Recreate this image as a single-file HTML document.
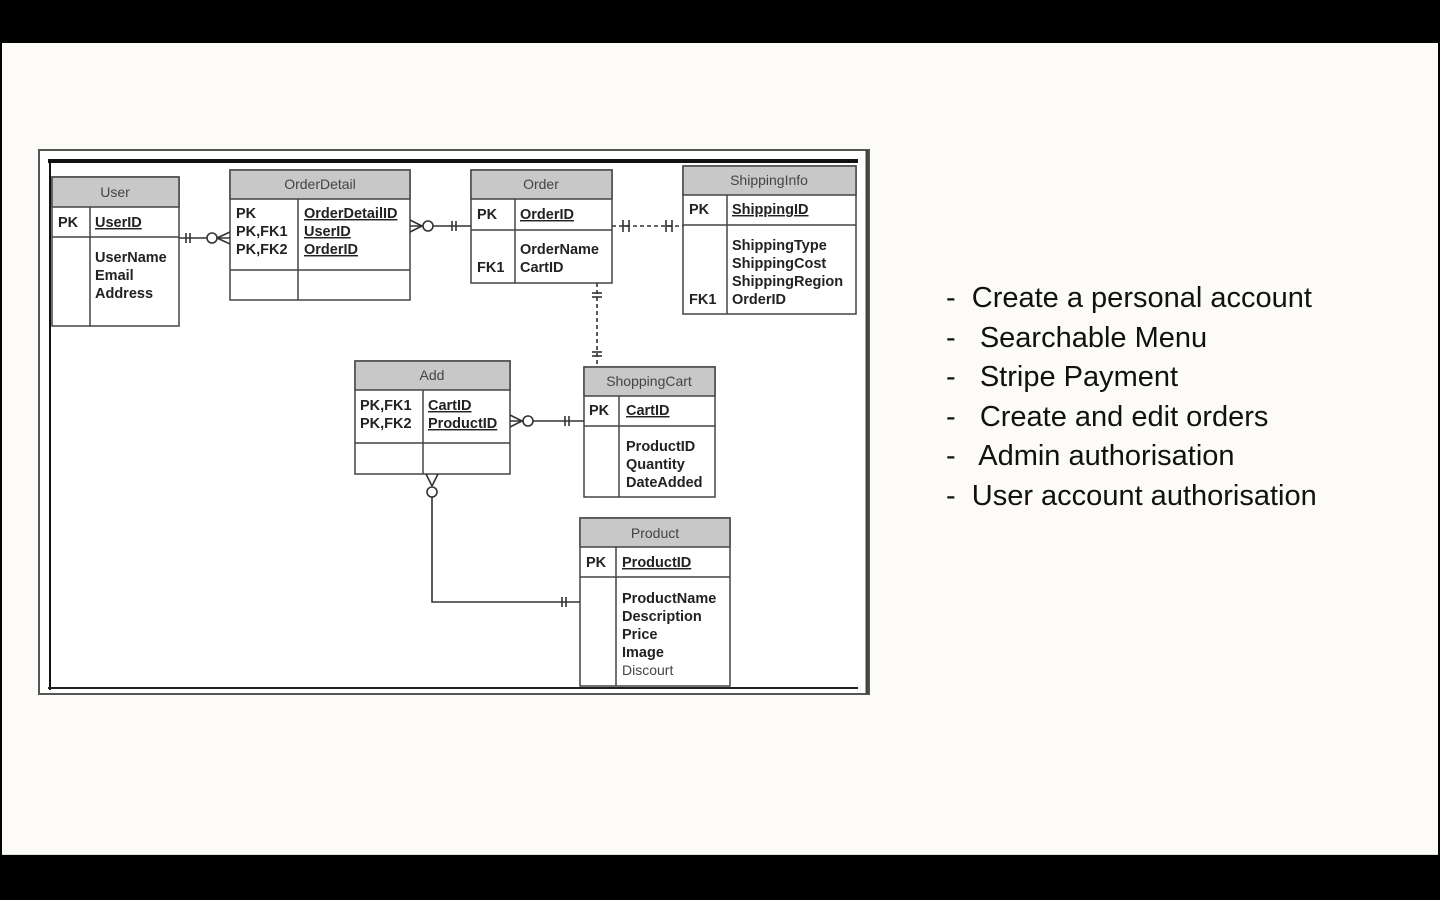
<!DOCTYPE html>
<html><head><meta charset="utf-8"><style>
html,body{margin:0;padding:0;width:1440px;height:900px;overflow:hidden;background:#000;}
.slide{position:absolute;left:2px;top:43px;width:1436px;height:811px;background:#fcfbf8;border-bottom:1px solid #ddd;}
svg{position:absolute;left:0;top:0;}
svg text{font-family:"Liberation Sans",Arial,sans-serif;font-size:14.5px;fill:#222;}
.b{font-weight:bold;}
.h{fill:#444;font-size:14px;}
.list{position:absolute;left:946px;top:279px;font-family:"Liberation Sans",sans-serif;font-size:29px;color:#111;line-height:39.6px;}
.list div{white-space:nowrap;}
</style></head><body>
<div class="slide"></div>
<svg width="1440" height="900" viewBox="0 0 1440 900">
<rect x="39" y="150" width="830" height="544" fill="#fff" stroke="#555" stroke-width="2"/>
<line x1="48" y1="161" x2="858" y2="161" stroke="#111" stroke-width="4"/>
<line x1="50" y1="160" x2="50" y2="690" stroke="#111" stroke-width="2"/>
<line x1="48" y1="688" x2="858" y2="688" stroke="#222" stroke-width="2"/>
<line x1="867" y1="150" x2="867" y2="694" stroke="#444" stroke-width="3"/>
<g stroke="#444" stroke-width="1.5" fill="none">
<rect x="52" y="177" width="127" height="149" fill="#fff"/><rect x="52" y="177" width="127" height="30" fill="#c8c8c8"/>
<line x1="52" y1="237" x2="179" y2="237"/><line x1="90" y1="207" x2="90" y2="326"/>
<rect x="230" y="170" width="180" height="130" fill="#fff"/><rect x="230" y="170" width="180" height="29" fill="#c8c8c8"/>
<line x1="230" y1="270" x2="410" y2="270"/><line x1="298" y1="199" x2="298" y2="300"/>
<rect x="471" y="170" width="141" height="113" fill="#fff"/><rect x="471" y="170" width="141" height="29" fill="#c8c8c8"/>
<line x1="471" y1="230" x2="612" y2="230"/><line x1="515" y1="199" x2="515" y2="283"/>
<rect x="683" y="166" width="173" height="148" fill="#fff"/><rect x="683" y="166" width="173" height="29" fill="#c8c8c8"/>
<line x1="683" y1="225" x2="856" y2="225"/><line x1="727" y1="195" x2="727" y2="314"/>
<rect x="355" y="361" width="155" height="113" fill="#fff"/><rect x="355" y="361" width="155" height="29" fill="#c8c8c8"/>
<line x1="355" y1="443" x2="510" y2="443"/><line x1="423" y1="390" x2="423" y2="474"/>
<rect x="584" y="367" width="131" height="130" fill="#fff"/><rect x="584" y="367" width="131" height="29" fill="#c8c8c8"/>
<line x1="584" y1="426" x2="715" y2="426"/><line x1="619" y1="396" x2="619" y2="497"/>
<rect x="580" y="518" width="150" height="168" fill="#fff"/><rect x="580" y="518" width="150" height="29" fill="#c8c8c8"/>
<line x1="580" y1="577" x2="730" y2="577"/><line x1="616" y1="547" x2="616" y2="686"/>
</g>
<g stroke="#333" stroke-width="1.6" fill="none">
<line x1="179" y1="238" x2="230" y2="238"/>
<line x1="186" y1="233" x2="186" y2="243"/><line x1="190" y1="233" x2="190" y2="243"/>
<circle cx="212" cy="238" r="5" fill="#fff"/>
<line x1="217" y1="238" x2="230" y2="232"/><line x1="217" y1="238" x2="230" y2="244"/>
<line x1="410" y1="226" x2="471" y2="226"/>
<line x1="410" y1="220" x2="422" y2="226"/><line x1="410" y1="232" x2="422" y2="226"/>
<circle cx="428" cy="226" r="5" fill="#fff"/>
<line x1="452" y1="221" x2="452" y2="231"/><line x1="456" y1="221" x2="456" y2="231"/>
<line x1="612" y1="226" x2="683" y2="226" stroke-dasharray="4,3"/>
<line x1="623" y1="220" x2="623" y2="232"/><line x1="629" y1="220" x2="629" y2="232"/><line x1="623" y1="226" x2="629" y2="226"/>
<line x1="666" y1="220" x2="666" y2="232"/><line x1="672" y1="220" x2="672" y2="232"/><line x1="666" y1="226" x2="672" y2="226"/>
<line x1="597" y1="283" x2="597" y2="367" stroke-dasharray="4,3"/>
<line x1="592" y1="293" x2="602" y2="293"/><line x1="592" y1="297" x2="602" y2="297"/>
<line x1="592" y1="352" x2="602" y2="352"/><line x1="592" y1="356" x2="602" y2="356"/>
<line x1="510" y1="421" x2="584" y2="421"/>
<line x1="510" y1="415" x2="522" y2="421"/><line x1="510" y1="427" x2="522" y2="421"/>
<circle cx="528" cy="421" r="5" fill="#fff"/>
<line x1="565" y1="416" x2="565" y2="426"/><line x1="569" y1="416" x2="569" y2="426"/>
<polyline points="432,497 432,602 580,602"/>
<line x1="426" y1="474" x2="432" y2="486"/><line x1="438" y1="474" x2="432" y2="486"/>
<circle cx="432" cy="492" r="5" fill="#fff"/>
<line x1="562" y1="597" x2="562" y2="607"/><line x1="566" y1="597" x2="566" y2="607"/>
</g>
<text x="115" y="197" text-anchor="middle" class="h">User</text>
<text x="58" y="227" class="b">PK</text><text x="95" y="227" class="b" text-decoration="underline">UserID</text>
<text x="95" y="262" class="b">UserName</text><text x="95" y="280" class="b">Email</text><text x="95" y="298" class="b">Address</text>

<text x="320" y="189" text-anchor="middle" class="h">OrderDetail</text>
<text x="236" y="218" class="b">PK</text><text x="236" y="236" class="b">PK,FK1</text><text x="236" y="254" class="b">PK,FK2</text>
<text x="304" y="218" class="b" text-decoration="underline">OrderDetailID</text><text x="304" y="236" class="b" text-decoration="underline">UserID</text><text x="304" y="254" class="b" text-decoration="underline">OrderID</text>

<text x="541" y="189" text-anchor="middle" class="h">Order</text>
<text x="477" y="219" class="b">PK</text><text x="520" y="219" class="b" text-decoration="underline">OrderID</text>
<text x="520" y="254" class="b">OrderName</text><text x="477" y="272" class="b">FK1</text><text x="520" y="272" class="b">CartID</text>

<text x="769" y="185" text-anchor="middle" class="h">ShippingInfo</text>
<text x="689" y="214" class="b">PK</text><text x="732" y="214" class="b" text-decoration="underline">ShippingID</text>
<text x="732" y="250" class="b">ShippingType</text><text x="732" y="268" class="b">ShippingCost</text><text x="732" y="286" class="b">ShippingRegion</text>
<text x="689" y="304" class="b">FK1</text><text x="732" y="304" class="b">OrderID</text>

<text x="432" y="380" text-anchor="middle" class="h">Add</text>
<text x="360" y="410" class="b">PK,FK1</text><text x="360" y="428" class="b">PK,FK2</text>
<text x="428" y="410" class="b" text-decoration="underline">CartID</text><text x="428" y="428" class="b" text-decoration="underline">ProductID</text>

<text x="649" y="386" text-anchor="middle" class="h">ShoppingCart</text>
<text x="589" y="415" class="b">PK</text><text x="626" y="415" class="b" text-decoration="underline">CartID</text>
<text x="626" y="451" class="b">ProductID</text><text x="626" y="469" class="b">Quantity</text><text x="626" y="487" class="b">DateAdded</text>

<text x="655" y="538" text-anchor="middle" class="h">Product</text>
<text x="586" y="567" class="b">PK</text><text x="622" y="567" class="b" text-decoration="underline">ProductID</text>
<text x="622" y="603" class="b">ProductName</text><text x="622" y="621" class="b">Description</text><text x="622" y="639" class="b">Price</text><text x="622" y="657" class="b">Image</text><text x="622" y="675" class="h">Discourt</text>
</svg>
<div class="list">
<div>-&nbsp; Create a personal account</div>
<div>-&nbsp;&nbsp; Searchable Menu</div>
<div>-&nbsp;&nbsp; Stripe Payment</div>
<div>-&nbsp;&nbsp; Create and edit orders</div>
<div>-&nbsp;&nbsp; Admin authorisation</div>
<div>-&nbsp; User account authorisation</div>
</div>
</body></html>
